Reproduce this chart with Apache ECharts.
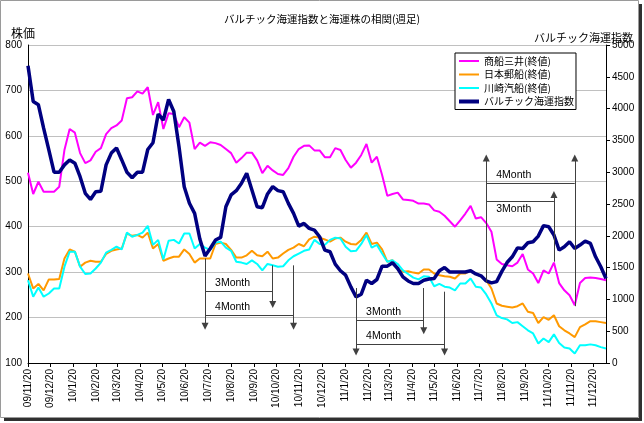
<!DOCTYPE html>
<html><head><meta charset="utf-8">
<script src="https://cdn.jsdelivr.net/npm/echarts@6/dist/echarts.min.js"></script>
<style>html,body{margin:0;padding:0;background:#fff}#c{width:644px;height:423px}</style>
</head><body><div id="c"></div>
<script>
// ---- data ----
const startDate = [2009, 11, 20];   // first weekly close (y, m, d)
const weekCount = 112;
const tickLabels = ['09/11/20','09/12/20','10/1/20','10/2/20','10/3/20','10/4/20','10/5/20','10/6/20','10/7/20','10/8/20','10/9/20','10/10/20','10/11/20','10/12/20','11/1/20','11/2/20','11/3/20','11/4/20','11/5/20','11/6/20','11/7/20','11/8/20','11/9/20','11/10/20','11/11/20','11/12/20'];
const seriesNames = ['商船三井(終値)','日本郵船(終値)','川崎汽船(終値)','バルチック海運指数'];
const mitsui = [519,472,499,477,477,477,488,569,615,607,562,540,546,565,573,604,617,623,634,683,685,698,693,707,646,674,615,650,648,619,641,629,571,585,578,586,584,580,571,562,541,551,563,563,546,518,534,524,516,514,529,554,571,578,579,568,568,553,553,573,569,547,530,541,558,582,541,554,514,468,472,475,460,459,457,451,451,449,436,433,424,412,400,414,429,446,418,421,408,389,328,318,315,313,321,340,306,297,276,304,297,321,276,260,249,227,276,287,288,287,285,282];
const nyk = [297,264,274,260,284,284,285,330,350,345,312,321,325,323,323,340,347,350,352,385,380,382,376,387,352,362,325,330,334,334,350,340,321,330,330,330,362,365,362,349,332,332,337,347,337,335,345,330,332,341,349,354,362,357,372,378,376,372,367,374,376,367,362,361,371,387,362,365,350,323,326,306,301,302,299,297,306,306,297,293,291,290,286,297,297,304,296,291,282,264,231,226,224,222,225,231,213,210,188,201,195,205,181,172,165,157,179,185,192,192,190,188];
const kline = [282,246,266,246,253,264,264,312,345,345,312,296,297,308,321,343,349,356,350,387,378,382,387,402,360,371,328,369,371,363,385,385,352,362,354,349,365,367,354,347,323,321,318,326,318,304,318,315,312,313,326,335,341,347,350,371,362,360,371,376,374,356,346,347,362,382,354,360,341,323,326,318,304,296,288,284,291,290,269,274,268,266,260,275,275,286,268,266,251,231,205,199,196,188,190,181,172,165,143,154,146,163,144,134,132,121,139,139,141,139,135,132];
const bdi = [4672,4112,4060,3693,3350,3000,3000,3115,3193,3142,2930,2668,2572,2693,2700,3115,3300,3380,3193,3000,2914,3000,3000,3357,3464,3914,3821,4143,3955,3400,2772,2511,2353,1950,1681,1801,1933,1975,2458,2642,2710,2826,2983,2721,2458,2442,2658,2773,2710,2694,2510,2353,2153,2195,2117,2090,1985,1775,1749,1555,1450,1381,1197,1040,1082,1302,1250,1313,1523,1523,1576,1486,1355,1290,1250,1250,1300,1320,1330,1450,1500,1430,1430,1430,1430,1450,1400,1370,1290,1260,1280,1440,1580,1670,1810,1800,1890,1906,1996,2160,2143,2012,1775,1828,1906,1801,1854,1917,1880,1670,1513,1329];
// annotation arrows (date, from value, to value) on the stock-price axis
const downArrows = [['2010-07-16',330,181],['2010-10-15',315,229],['2010-11-12',315,181],['2011-02-04',265,124],['2011-05-06',265,171],['2011-06-03',257,124]];
const upArrows = [['2011-07-29',276,551],['2011-10-28',323,471],['2011-11-25',225,551]];
const spans = [['2010-07-16','2010-10-15',258,'3Month','insideStartTop'],['2010-07-16','2010-11-12',205,'4Month','insideStartTop'],
               ['2011-02-04','2011-05-06',194,'3Month','insideStartTop'],['2011-02-04','2011-06-03',141,'4Month','insideStartTop'],
               ['2011-07-29','2011-11-25',496,'4Month','insideStartTop'],['2011-07-29','2011-10-28',457,'3Month','insideStartBottom']];

// ---- build ----
function ts(s){ const p = s.split('-'); return new Date(+p[0], +p[1]-1, +p[2]).getTime(); }
const dates = [];
for (let i = 0; i < weekCount; i++) dates.push(new Date(startDate[0], startDate[1]-1, startDate[2] + 7*i).getTime());
const tickValues = tickLabels.map(s => { const p = s.split('/'); return new Date(2000 + +p[0], +p[1]-1, +p[2]).getTime(); });
const tickMap = {}; tickValues.forEach((v,i) => tickMap[v] = tickLabels[i]);
const pair = arr => arr.map((v,i) => [dates[i], v]);

const FONT = '"Liberation Sans", Arial, "Noto Sans CJK JP", sans-serif';
const JFONT = '"Noto Sans CJK JP", "Liberation Sans", sans-serif';
const annoColor = '#404040';

const markData = [];
downArrows.forEach(a => markData.push([{coord:[ts(a[0]),a[1]], symbol:'none'},{coord:[ts(a[0]),a[2]], symbol:'triangle'}]));
upArrows.forEach(a => markData.push([{coord:[ts(a[0]),a[1]], symbol:'none'},{coord:[ts(a[0]),a[2]], symbol:'triangle'}]));
spans.forEach(s => markData.push([{coord:[ts(s[0]),s[2]], symbol:'none', label:{show:true, formatter:s[3], position:s[4]}},{coord:[ts(s[1]),s[2]], symbol:'none'}]));

const colors = ['#FF00FF','#FF9900','#00FFFF','#000080'];
const widths = [2,2,2,3.5];
const vals = [mitsui, nyk, kline, bdi];

const series = vals.map((v,k) => ({
  name: seriesNames[k], type:'line', yAxisIndex: k === 3 ? 1 : 0,
  data: pair(v), symbol:'none', showSymbol:false,
  lineStyle:{color:colors[k], width:widths[k]}, itemStyle:{color:colors[k]},
  emphasis:{disabled:true}, silent:true
}));
series.push({
  type:'line', yAxisIndex:0, data:[], silent:true,
  markLine:{silent:true, animation:false, symbol:['none','triangle'], symbolSize:7,
    lineStyle:{color:annoColor, width:1, type:'solid'},
    itemStyle:{color:'#000'},
    label:{show:false, color:'#000', fontSize:10.5, fontFamily:FONT, distance:[10,3]},
    emphasis:{disabled:true},
    data: markData}
});

const chart = echarts.init(document.getElementById('c'), null, {renderer:'canvas'});
chart.setOption({
  animation:false,
  textStyle:{fontFamily:FONT},
  title:[
    {text:'バルチック海運指数と海運株の相関(週足)', left:'center', top:9, textStyle:{fontSize:10.5, fontWeight:'normal', color:'#000', fontFamily:JFONT}},
    {text:'株価', left:6, top:22, textStyle:{fontSize:12, fontWeight:'normal', color:'#000', fontFamily:JFONT}},
    {text:'バルチック海運指数', right:6, top:27, textStyle:{fontSize:11, fontWeight:'normal', color:'#000', fontFamily:JFONT}}
  ],
  graphic:[
    {type:'rect', shape:{x:0.5, y:0.5, width:638, height:417}, style:{fill:'none', stroke:'#9a9a9a', lineWidth:1}, silent:true},
    {type:'rect', shape:{x:639, y:4, width:3, height:417}, style:{fill:'#303030'}, silent:true},
    {type:'rect', shape:{x:4, y:418, width:638, height:3}, style:{fill:'#303030'}, silent:true}
  ],
  legend:{orient:'vertical', left:455, top:53, itemWidth:20, itemHeight:10, itemGap:3.5,
    padding:[3,2,3,2], borderColor:'#000', borderWidth:1, backgroundColor:'#fff',
    itemStyle:{opacity:0},
    textStyle:{fontSize:10, color:'#000', fontFamily:JFONT},
    data: seriesNames.map((n,k) => ({name:n, lineStyle:{width: k===3 ? 4 : 2, color:colors[k]}}))},
  grid:{left:28, right:38, top:45, bottom:60},
  xAxis:{type:'value', min:dates[0], max:dates[dates.length-1],
    axisLine:{lineStyle:{color:'#000', width:1}},
    axisTick:{show:true, customValues:tickValues, length:4, lineStyle:{color:'#000'}},
    axisLabel:{customValues:tickValues, rotate:90, fontSize:10, color:'#000', margin:6,
      formatter: v => tickMap[v] || ''},
    splitLine:{show:false}},
  yAxis:[
    {type:'value', min:100, max:800, interval:100, position:'left',
      axisLine:{show:true, lineStyle:{color:'#000'}}, axisTick:{show:false},
      axisLabel:{fontSize:10, color:'#000', margin:6, formatter: v => String(v)},
      splitLine:{show:true, lineStyle:{color:'#c0c0c0', width:1}}},
    {type:'value', min:0, max:5000, interval:500, position:'right',
      axisLine:{show:true, lineStyle:{color:'#000'}}, axisTick:{show:true, length:4, lineStyle:{color:'#000'}},
      axisLabel:{fontSize:10, color:'#000', margin:6, formatter: v => String(v)},
      splitLine:{show:false}}
  ],
  series: series
});
</script></body></html>
